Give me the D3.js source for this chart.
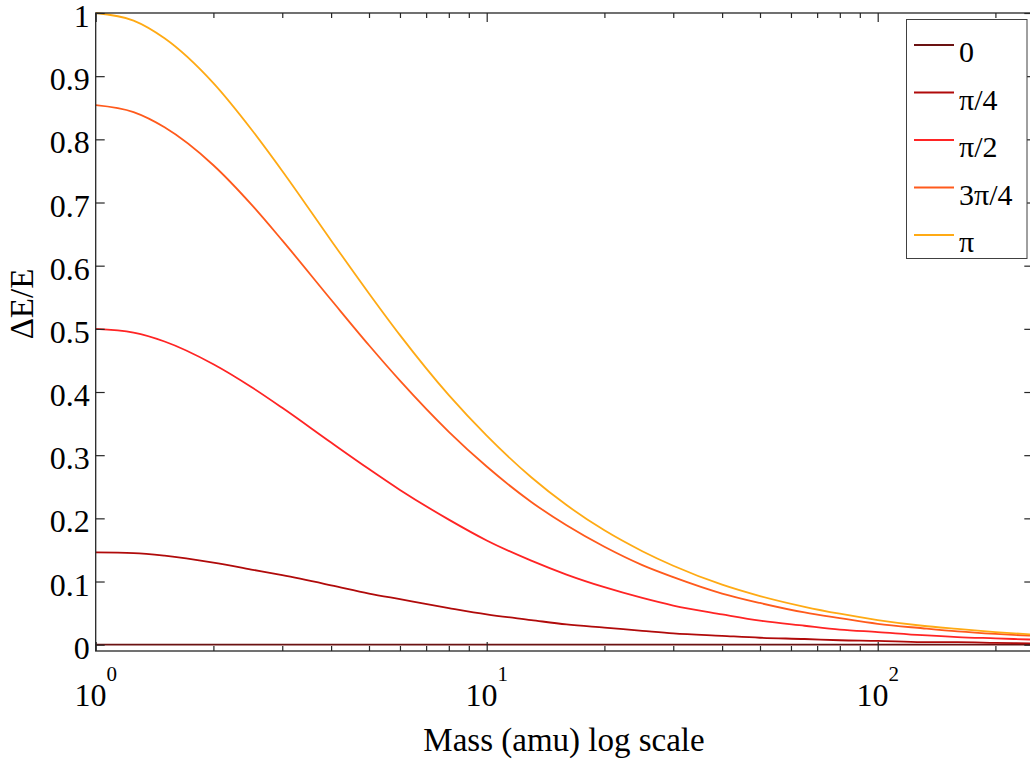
<!DOCTYPE html>
<html>
<head>
<meta charset="utf-8">
<script src="https://cdn.jsdelivr.net/npm/d3@7"></script>
<style>
  html, body { margin: 0; padding: 0; background: #fff; }
  svg { display: block; }
  text { font-family: "Liberation Serif", "DejaVu Serif", serif; fill: #000; }
</style>
</head>
<body>
<svg id="chart" width="1030" height="762"></svg>
<script>
// Target mass (amu) sample points
const mass = [1, 1.25, 1.5, 2, 2.5, 3, 4, 5, 6, 8, 10, 13, 16, 20, 25, 30, 40, 50, 65, 80, 100, 130, 160, 200, 250];

// Fractional energy transfer ΔE/E for each scattering angle
const angle0      = [0, 0, 0, 0, 0, 0, 0, 0, 0, 0, 0, 0, 0, 0, 0, 0, 0, 0, 0, 0, 0, 0, 0, 0, 0];
const anglePi4    = [0.146, 0.145, 0.141, 0.130, 0.119, 0.110, 0.094, 0.081, 0.072, 0.058, 0.048, 0.039, 0.032, 0.027, 0.022, 0.018, 0.014, 0.011, 0.009, 0.007, 0.006, 0.004, 0.004, 0.003, 0.002];
const anglePi2    = [0.500, 0.494, 0.480, 0.444, 0.408, 0.375, 0.320, 0.278, 0.245, 0.198, 0.165, 0.133, 0.111, 0.091, 0.074, 0.062, 0.048, 0.038, 0.030, 0.024, 0.020, 0.015, 0.012, 0.010, 0.008];
const angle3Pi4   = [0.854, 0.843, 0.819, 0.759, 0.697, 0.640, 0.546, 0.474, 0.418, 0.337, 0.282, 0.226, 0.189, 0.155, 0.126, 0.107, 0.081, 0.066, 0.051, 0.042, 0.033, 0.026, 0.021, 0.017, 0.014];
const anglePi     = [1.000, 0.988, 0.960, 0.889, 0.816, 0.750, 0.640, 0.556, 0.490, 0.395, 0.331, 0.265, 0.221, 0.181, 0.148, 0.125, 0.095, 0.077, 0.060, 0.049, 0.039, 0.030, 0.025, 0.020, 0.016];

const seriesNames = ["0", "π/4", "π/2", "3π/4", "π"];
const seriesColors = ["#6b1212", "#b00a0a", "#ff2424", "#ff5a1c", "#ffaa14"];
const seriesValues = [angle0, anglePi4, anglePi2, angle3Pi4, anglePi];

const yTicks = [0, 0.1, 0.2, 0.3, 0.4, 0.5, 0.6, 0.7, 0.8, 0.9, 1];
const yTickLabels = ["0", "0.1", "0.2", "0.3", "0.4", "0.5", "0.6", "0.7", "0.8", "0.9", "1"];
const xMajor = [1, 10, 100];
const xMajorExp = ["0", "1", "2"];
const xMinor = [2, 3, 4, 5, 6, 7, 8, 9, 20, 30, 40, 50, 60, 70, 80, 90, 200];

const svg = d3.select("#chart");
const plotLeft = 95.7, plotRight = 1033.3, plotTop = 13, plotBottom = 651;

const x = d3.scaleLog().domain([1, 250]).range([plotLeft, plotRight]);
const y = d3.scaleLinear().domain([-0.01, 1]).range([plotBottom, plotTop]);

const axisColor = "#262626";

function styleAxis(g) {
  g.select(".domain").remove();
  g.selectAll(".tick line").attr("stroke", axisColor).attr("stroke-width", 1.2);
  g.selectAll(".tick text").remove();
}

// Curves
const line = d3.line()
  .x((d, i) => x(mass[i]))
  .y(d => y(d))
  .curve(d3.curveMonotoneX);

svg.append("defs").append("clipPath").attr("id", "plotClip")
  .append("rect").attr("x", plotLeft).attr("y", plotTop - 2)
  .attr("width", plotRight - plotLeft).attr("height", plotBottom - plotTop + 2);

const curves = svg.append("g").attr("clip-path", "url(#plotClip)");
seriesValues.forEach((vals, k) => {
  curves.append("path")
    .datum(vals)
    .attr("fill", "none")
    .attr("stroke", seriesColors[k])
    .attr("stroke-width", 1.8)
    .attr("d", line);
});

// Axes with inward ticks on all four sides
svg.append("g").attr("transform", `translate(0,${plotBottom})`)
  .call(d3.axisBottom(x).tickValues(xMajor).tickSize(-9).tickSizeOuter(0)).call(styleAxis);
svg.append("g").attr("transform", `translate(0,${plotBottom})`)
  .call(d3.axisBottom(x).tickValues(xMinor).tickSize(-5).tickSizeOuter(0)).call(styleAxis);
svg.append("g").attr("transform", `translate(0,${plotTop})`)
  .call(d3.axisTop(x).tickValues(xMajor).tickSize(-9).tickSizeOuter(0)).call(styleAxis);
svg.append("g").attr("transform", `translate(0,${plotTop})`)
  .call(d3.axisTop(x).tickValues(xMinor).tickSize(-5).tickSizeOuter(0)).call(styleAxis);
svg.append("g").attr("transform", `translate(${plotLeft},0)`)
  .call(d3.axisLeft(y).tickValues(yTicks).tickSize(-9).tickSizeOuter(0)).call(styleAxis);
svg.append("g").attr("transform", `translate(${plotRight},0)`)
  .call(d3.axisRight(y).tickValues(yTicks).tickSize(-9).tickSizeOuter(0)).call(styleAxis);

// Plot frame
svg.append("rect")
  .attr("x", plotLeft).attr("y", plotTop)
  .attr("width", plotRight - plotLeft).attr("height", plotBottom - plotTop)
  .attr("fill", "none").attr("stroke", axisColor).attr("stroke-width", 1.3);

// Y tick labels
svg.append("g").selectAll("text").data(yTicks).join("text")
  .attr("x", plotLeft - 6)
  .attr("y", d => y(d) + 14)
  .attr("text-anchor", "end")
  .attr("font-size", 32)
  .text((d, i) => yTickLabels[i]);

// X tick labels as powers of ten
const xl = svg.append("g").selectAll("text").data(xMajor).join("text")
  .attr("x", d => x(d))
  .attr("y", 706)
  .attr("text-anchor", "middle")
  .attr("font-size", 32);
xl.append("tspan").text("10");
xl.append("tspan").attr("dy", -25).attr("font-size", 21).text((d, i) => xMajorExp[i]);

// Axis titles
svg.append("text")
  .attr("x", 564).attr("y", 751)
  .attr("text-anchor", "middle")
  .attr("font-size", 33)
  .text("Mass (amu) log scale");

svg.append("text")
  .attr("transform", "translate(33,304) rotate(-90)")
  .attr("text-anchor", "middle")
  .attr("font-size", 33)
  .text("ΔE/E");

// Legend
const legend = svg.append("g");
legend.append("rect")
  .attr("x", 906.5).attr("y", 19.5).attr("width", 120.5).attr("height", 239)
  .attr("fill", "#fff").attr("stroke", "#404040").attr("stroke-width", 1);
seriesNames.forEach((name, k) => {
  const ly = 45 + k * 47.5;
  legend.append("line")
    .attr("x1", 914).attr("x2", 954).attr("y1", ly).attr("y2", ly)
    .attr("stroke", seriesColors[k]).attr("stroke-width", 1.8);
  legend.append("text")
    .attr("x", 959).attr("y", ly + 17)
    .attr("font-size", 30)
    .text(name);
});
</script>
</body>
</html>
